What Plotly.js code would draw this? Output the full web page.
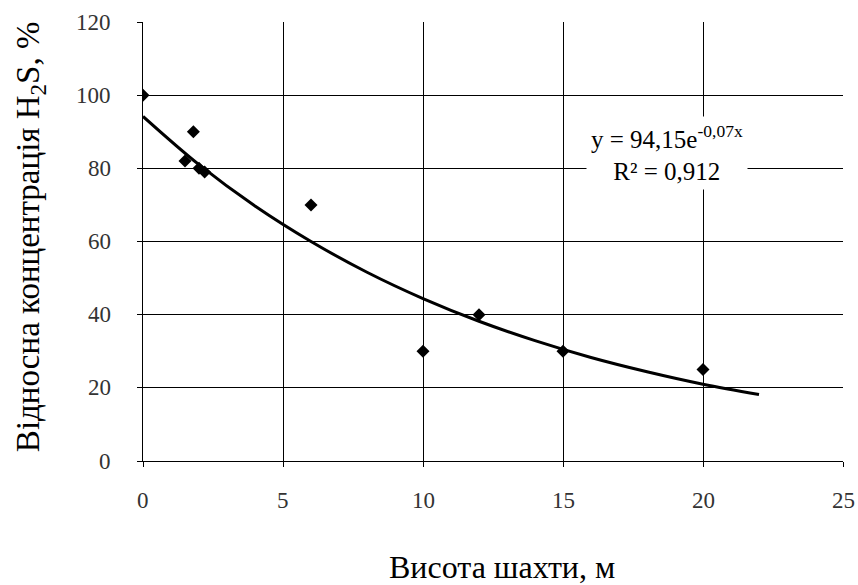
<!DOCTYPE html>
<html>
<head>
<meta charset="utf-8">
<script src="https://cdn.plot.ly/plotly-3.0.1.min.js"></script>
<style>html,body{margin:0;padding:0;background:#fff;}</style>
</head>
<body>
<div id="chart" style="width:858px;height:585px;"></div>
<script>
// Measured points
const heightX = [0, 1.5, 1.8, 2, 2.2, 6, 10, 12, 15, 20];
const concY = [100, 82, 90, 80, 79, 70, 30, 40, 30, 25];
// Trend line values
const trendX = [0, 2, 4, 6, 8, 10, 12, 14, 16, 18, 20, 22];
const trendY = [94.2, 81.0, 69.7, 60.0, 51.6, 44.4, 38.2, 32.9, 28.3, 24.4, 21.0, 18.2];
const xTicks = [0, 5, 10, 15, 20, 25];
const yTicks = [0, 20, 40, 60, 80, 100, 120];
const xRange = [0, 25];
const yRange = [0, 120];
const xTitle = 'Висота шахти, м';
const yTitle = 'Відносна концентрація H<sub>2</sub>S, %';
const eqText = 'y = 94,15e<sup>-0,07x</sup><br>R² = 0,912';

const traces = [
  {x: trendX, y: trendY, mode: 'lines', line: {color: '#000', width: 3, shape: 'spline'}},
  {x: heightX, y: concY, mode: 'markers', marker: {symbol: 'diamond', color: '#000', size: 10}}
];

// tick labels placed through the axes' own scales
const yLabelAnns = yTicks.map(v => ({
  xref: 'paper', x: -0.043, yref: 'y', y: v, text: String(v),
  xanchor: 'right', yanchor: 'middle', showarrow: false,
  font: {size: 23, color: '#333'}
}));
const xLabelAnns = xTicks.map(v => ({
  xref: 'x', x: v, yref: 'paper', y: -0.089, text: String(v),
  xanchor: 'center', yanchor: 'middle', showarrow: false,
  font: {size: 23, color: '#333'}
}));

const layout = {
  width: 858, height: 585,
  margin: {l: 143, r: 15, t: 22, b: 124},
  showlegend: false,
  font: {family: 'Liberation Serif', color: '#000'},
  xaxis: {
    range: xRange, tickvals: xTicks, showticklabels: false,
    showgrid: true, gridcolor: '#000', gridwidth: 1,
    zeroline: false, showline: true, linecolor: '#000', linewidth: 1,
    ticks: 'outside', ticklen: 5, tickcolor: '#000'
  },
  yaxis: {
    range: yRange, tickvals: yTicks, showticklabels: false,
    showgrid: true, gridcolor: '#000', gridwidth: 1,
    zeroline: false, showline: true, linecolor: '#000', linewidth: 1,
    ticks: 'outside', ticklen: 5, tickcolor: '#000'
  },
  annotations: [
    ...yLabelAnns,
    ...xLabelAnns,
    {xref: 'paper', x: 0.513, yref: 'paper', y: -0.2415, text: xTitle,
     xanchor: 'center', yanchor: 'middle', showarrow: false, font: {size: 32}},
    {xref: 'paper', x: -0.1614, yref: 'paper', y: 0.51, text: yTitle, textangle: -90,
     xanchor: 'center', yanchor: 'middle', showarrow: false, font: {size: 33}},
    {x: 18.73, y: 84.3, xref: 'x', yref: 'y', text: eqText,
     showarrow: false, bgcolor: '#fff', align: 'center', borderpad: 4,
     font: {size: 25}}
  ]
};

Plotly.newPlot('chart', traces, layout, {displayModeBar: false, staticPlot: true});
</script>
</body>
</html>
